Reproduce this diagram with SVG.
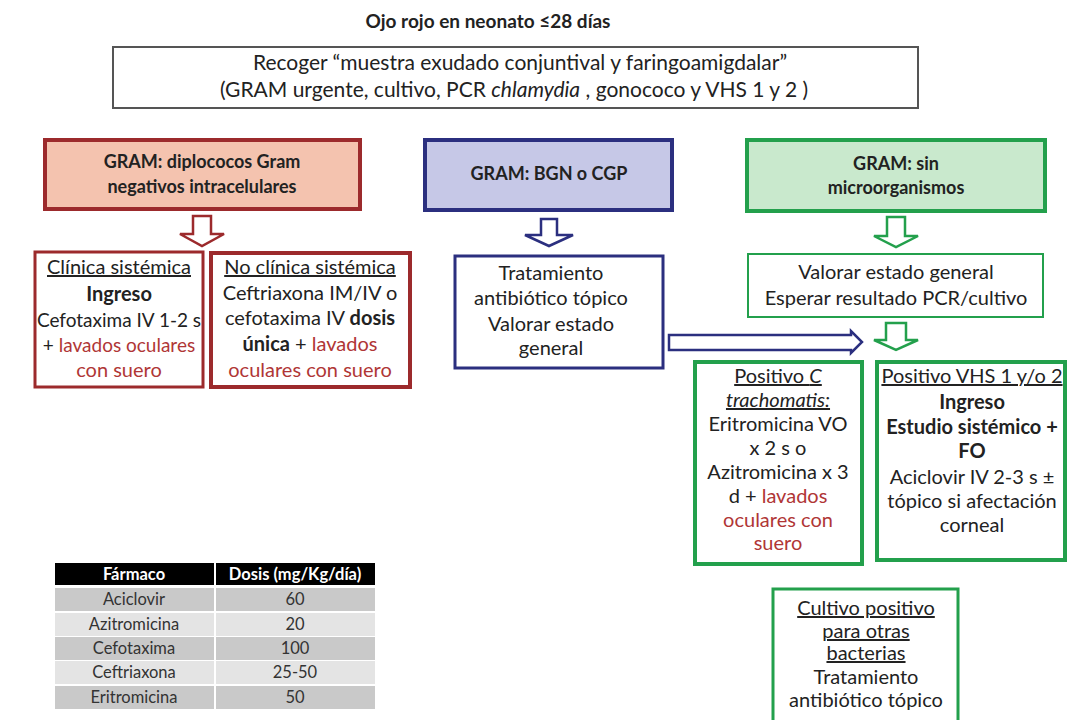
<svg xmlns="http://www.w3.org/2000/svg" width="1070" height="720" viewBox="0 0 1070 720">
<style>
text{font-family:Lato,"Open Sans","Liberation Sans",sans-serif;fill:#222;text-anchor:middle}
.t{font-size:20px}
.s{font-size:19px}
.h{font-size:18px;font-weight:bold}
.b{font-weight:bold}
.r{fill:#b03636}
.u{text-decoration:underline}
.i{font-style:italic}
.tb{font-size:16.5px;fill:#333}
.th{font-size:16.5px;font-weight:bold;fill:#fff}
.redbox{fill:#fff;stroke:#9c2a2c}
.bluebox{fill:#fff;stroke:#2b2f7f}
.greenbox{fill:#fff;stroke:#23a04c}
.arr{fill:#fff;stroke-width:2.5;stroke-linejoin:miter}
</style>
<rect width="1070" height="720" fill="#fff"/>
<g id="title"><text x="488" y="28" style="font-size:19px;font-weight:bold">Ojo rojo en neonato ≤28 días</text></g>
<g id="muestra">
<rect x="113" y="47" width="805" height="61" fill="#fff" stroke="#555" stroke-width="2"/>
<text x="520" y="70" style="font-size:21px">Recoger “muestra exudado conjuntival y faringoamigdalar”</text>
<text x="514" y="97" style="font-size:21px">(GRAM urgente, cultivo, PCR <tspan class="i">chlamydia</tspan> , gonococo y VHS 1 y 2 )</text>
</g>
<g id="gram-diplococos">
<rect x="45" y="140" width="315" height="69" fill="#f4c3af" stroke="#9c2a2c" stroke-width="4"/>
<text class="h" x="202" y="168">GRAM: diplococos Gram</text>
<text class="h" x="202" y="193">negativos intracelulares</text>
</g>
<g id="gram-bgn">
<rect x="425" y="140" width="247" height="70" fill="#c6c8e7" stroke="#2b2f7f" stroke-width="4"/>
<text class="h" x="549" y="180">GRAM: BGN o CGP</text>
</g>
<g id="gram-sin">
<rect x="747" y="140" width="298" height="71" fill="#c9e9cd" stroke="#23a04c" stroke-width="4"/>
<text class="h" x="896" y="170">GRAM: sin</text>
<text class="h" x="896" y="194">microorganismos</text>
</g>
<g id="clinica">
<rect class="redbox" x="35" y="252" width="168" height="135" stroke-width="3"/>
<text class="t" x="119" y="274"><tspan class="u">Clínica sistémica</tspan></text>
<text class="t b" x="119" y="301">Ingreso</text>
<text class="s" x="119" y="327">Cefotaxima IV 1-2 s</text>
<text class="s" x="119" y="352">+ <tspan class="r">lavados oculares</tspan></text>
<text class="t r" x="119" y="377">con suero</text>
</g>
<g id="no-clinica">
<rect class="redbox" x="211" y="253" width="199" height="134" stroke-width="4"/>
<text class="t" x="310" y="274"><tspan class="u">No clínica sistémica</tspan></text>
<text class="t" x="310" y="300">Ceftriaxona IM/IV o</text>
<text class="t" x="310" y="325">cefotaxima IV <tspan class="b">dosis</tspan></text>
<text class="t" x="310" y="351"><tspan class="b">única</tspan> + <tspan class="r">lavados</tspan></text>
<text class="t r" x="310" y="377">oculares con suero</text>
</g>
<g id="tratamiento-topico">
<rect class="bluebox" x="455" y="256" width="208" height="112" stroke-width="3"/>
<text class="t" x="551" y="280">Tratamiento</text>
<text class="t" x="551" y="305">antibiótico tópico</text>
<text class="t" x="551" y="331">Valorar estado</text>
<text class="t" x="551" y="355">general</text>
</g>
<g id="valorar">
<rect class="greenbox" x="748" y="254" width="295" height="63" stroke-width="2"/>
<text class="t" x="896" y="279">Valorar estado general</text>
<text class="t" x="896" y="305">Esperar resultado PCR/cultivo</text>
</g>
<g id="chlamydia">
<rect class="greenbox" x="695" y="362" width="167" height="202" stroke-width="4"/>
<text class="t" x="778" y="383"><tspan class="u">Positivo <tspan class="i">C</tspan></tspan></text>
<text class="t i u" x="778" y="407">trachomatis:</text>
<text class="t" x="778" y="431">Eritromicina VO</text>
<text class="t" x="778" y="455">x 2 s o</text>
<text class="t" x="778" y="479">Azitromicina x 3</text>
<text class="t" x="778" y="503">d + <tspan class="r">lavados</tspan></text>
<text class="t r" x="778" y="527">oculares con</text>
<text class="t r" x="778" y="550">suero</text>
</g>
<g id="vhs">
<rect class="greenbox" x="877" y="362" width="188" height="198" stroke-width="4"/>
<text class="t" x="972" y="383"><tspan class="u">Positivo VHS 1 y/o 2</tspan></text>
<text class="t b" x="972" y="409">Ingreso</text>
<text class="t b" x="972" y="434">Estudio sistémico +</text>
<text class="t b" x="972" y="458">FO</text>
<text class="t" x="972" y="484">Aciclovir IV 2-3 s ±</text>
<text class="t" x="972" y="508">tópico si afectación</text>
<text class="t" x="972" y="532">corneal</text>
</g>
<g id="otras-bacterias">
<rect class="greenbox" x="773" y="589" width="185" height="140" stroke-width="3"/>
<text class="t u" x="866" y="615">Cultivo positivo</text>
<text class="t u" x="866" y="638">para otras</text>
<text class="t u" x="866" y="660">bacterias</text>
<text class="t" x="866" y="684">Tratamiento</text>
<text class="t" x="866" y="707">antibiótico tópico</text>
</g>
<g id="connectors">
<polygon class="arr" stroke="#9c2a2c" points="193,216 211,216 211,234 224,234 202,246 180,234 193,234"/>
<polygon class="arr" stroke="#2b2f7f" points="541,219 557,219 557,235 573,235 549,246 525,235 541,235"/>
<polygon class="arr" stroke="#23a04c" points="887,217 905,217 905,236 918,236 896,247 874,236 887,236"/>
<polygon class="arr" stroke="#23a04c" points="886,323 906,323 906,340 918,340 896,350 874,340 886,340"/>
<polygon class="arr" stroke="#2b2f7f" points="669,335 851,335 851,331 862,342 851,353 851,350 669,350"/>
</g>
<g id="tabla">
<rect x="55" y="563" width="159" height="22" fill="#000"/>
<rect x="216" y="563" width="159" height="22" fill="#000"/>
<rect x="55" y="588" width="159" height="23" fill="#c9c9c9"/>
<rect x="216" y="588" width="159" height="23" fill="#c9c9c9"/>
<rect x="55" y="613" width="159" height="23" fill="#e4e4e4"/>
<rect x="216" y="613" width="159" height="23" fill="#e4e4e4"/>
<rect x="55" y="637" width="159" height="23" fill="#c9c9c9"/>
<rect x="216" y="637" width="159" height="23" fill="#c9c9c9"/>
<rect x="55" y="661" width="159" height="23" fill="#e4e4e4"/>
<rect x="216" y="661" width="159" height="23" fill="#e4e4e4"/>
<rect x="55" y="686" width="159" height="23" fill="#c9c9c9"/>
<rect x="216" y="686" width="159" height="23" fill="#c9c9c9"/>
<text class="th" x="134" y="580">Fármaco</text>
<text class="th" x="295" y="580">Dosis (mg/Kg/día)</text>
<text class="tb" x="134" y="605">Aciclovir</text><text class="tb" x="295" y="605">60</text>
<text class="tb" x="134" y="630">Azitromicina</text><text class="tb" x="295" y="630">20</text>
<text class="tb" x="134" y="654">Cefotaxima</text><text class="tb" x="295" y="654">100</text>
<text class="tb" x="134" y="678">Ceftriaxona</text><text class="tb" x="295" y="678">25-50</text>
<text class="tb" x="134" y="703">Eritromicina</text><text class="tb" x="295" y="703">50</text>
</g>
</svg>
